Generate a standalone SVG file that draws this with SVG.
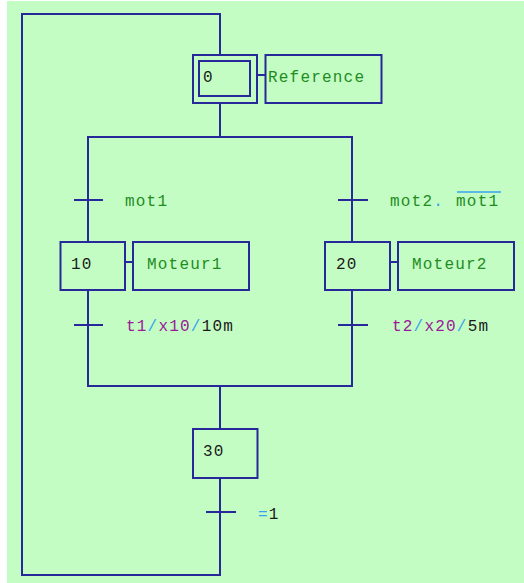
<svg xmlns="http://www.w3.org/2000/svg" width="524" height="583" viewBox="0 0 524 583">
<style>
.ln{stroke:#27289a;stroke-width:2;fill:none}
.bx{stroke:#27289a;stroke-width:2;fill:none}
.t{font-family:"Liberation Mono","DejaVu Sans Mono",monospace;font-size:16px;letter-spacing:1.2px}
.g{fill:#1e8c1e}
.k{fill:#1a1a1a}
.p{fill:#9a1a9a}
.b{fill:#3aa0f0}
</style>
<rect x="7" y="1" width="517" height="582" fill="#c4fdc4"/>
<g id="connectors">
<polyline class="ln" points="220,54 220,14 22,14 22,575 220,575 220,478"/>
<line class="ln" x1="220" y1="103" x2="220" y2="137"/>
<polyline class="ln" points="88,242 88,137 352,137 352,242"/>
<line class="ln" x1="74" y1="200" x2="103" y2="200"/>
<line class="ln" x1="338" y1="200" x2="368" y2="200"/>
<polyline class="ln" points="88,290 88,386 352,386 352,290"/>
<line class="ln" x1="74" y1="325" x2="103" y2="325"/>
<line class="ln" x1="338" y1="325" x2="368" y2="325"/>
<line class="ln" x1="220" y1="386" x2="220" y2="429"/>
<line class="ln" x1="206" y1="512" x2="236" y2="512"/>
<line class="ln" x1="257" y1="75" x2="265" y2="75"/>
<line class="ln" x1="125" y1="262" x2="133" y2="262"/>
<line class="ln" x1="390" y1="262" x2="398" y2="262"/>
</g>
<g id="step0">
<rect class="bx" x="193" y="55" width="64" height="48"/>
<rect class="bx" x="199" y="61" width="51" height="35"/>
<text class="t k" x="203" y="82">0</text>
</g>
<g id="action0">
<rect class="bx" x="265.5" y="55" width="116" height="48"/>
<text class="t g" x="268" y="82">Reference</text>
</g>
<g id="trans-mot1">
<text class="t g" x="125" y="206">mot1</text>
</g>
<g id="trans-mot2">
<text class="t" x="390" y="206"><tspan class="g">mot2</tspan><tspan class="b">.</tspan><tspan class="g" dx="12">mot1</tspan></text>
<line x1="457" y1="192" x2="501" y2="192" stroke="#3aa0f0" stroke-width="1.5"/>
</g>
<g id="step10">
<rect class="bx" x="60.5" y="242" width="64.5" height="48"/>
<text class="t k" x="71" y="269">10</text>
</g>
<g id="action10">
<rect class="bx" x="133" y="242" width="116" height="48"/>
<text class="t g" x="147" y="269">Moteur1</text>
</g>
<g id="step20">
<rect class="bx" x="325" y="242" width="65" height="48"/>
<text class="t k" x="336" y="269">20</text>
</g>
<g id="action20">
<rect class="bx" x="398" y="242" width="116" height="48"/>
<text class="t g" x="412" y="269">Moteur2</text>
</g>
<g id="trans-t1">
<text class="t" x="126" y="331"><tspan class="p">t1</tspan><tspan class="b">/</tspan><tspan class="p">x10</tspan><tspan class="b">/</tspan><tspan class="k">10m</tspan></text>
</g>
<g id="trans-t2">
<text class="t" x="392" y="331"><tspan class="p">t2</tspan><tspan class="b">/</tspan><tspan class="p">x20</tspan><tspan class="b">/</tspan><tspan class="k">5m</tspan></text>
</g>
<g id="step30">
<rect class="bx" x="193" y="429" width="64.5" height="49"/>
<text class="t k" x="203" y="456">30</text>
</g>
<g id="trans-eq1">
<text class="t" x="258" y="519"><tspan class="b">=</tspan><tspan class="k">1</tspan></text>
</g>
</svg>
